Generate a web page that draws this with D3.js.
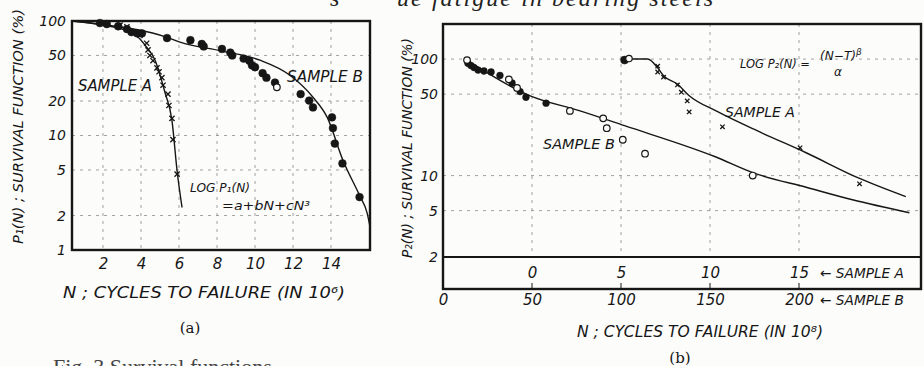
<!DOCTYPE html>
<html>
<head>
<meta charset="utf-8">
<script src="https://cdn.jsdelivr.net/npm/d3@7"></script>
<style>
  body { margin: 0; background: #fcfcfb; }
  svg { display: block; }
  .lab { font-family: "DejaVu Sans", sans-serif; font-style: italic; fill: #161616; }
  .tick text { font-family: "DejaVu Sans", sans-serif; font-style: italic; fill: #161616; }
</style>
</head>
<body>
<svg id="chart" width="924" height="366"></svg>
<script>
// ---------- panel (a): N in 10^6 cycles, P1(N) in %
var aTicksX = [2, 4, 6, 8, 10, 12, 14];
var aTicksY = [1, 2, 5, 10, 20, 50, 100];
var aCrossA = [[2.9, 92], [3.26, 89], [3.58, 80], [3.95, 75], [4.3, 64], [4.37, 56], [4.47, 50],
  [4.63, 45], [4.84, 39], [4.95, 36], [5.1, 32], [5.16, 27.5], [5.42, 23], [5.47, 18.3],
  [5.63, 14.1], [5.68, 9.2], [5.9, 4.6]];
var aDotB = [[1.84, 96], [2.2, 94], [2.8, 90], [3.26, 85], [3.5, 80], [3.8, 78], [4.05, 78],
  [5.37, 71], [6.6, 68], [7.2, 63], [7.3, 60], [8.26, 57], [8.7, 53], [8.8, 50], [9.4, 47],
  [9.7, 45], [9.84, 41], [10, 39.5], [10.4, 35], [10.6, 32], [11.05, 29], [12.4, 23],
  [12.85, 20.2], [13.05, 17.6], [14.05, 14.4], [14.1, 11.6], [14.2, 8.5], [14.6, 5.7], [15.5, 2.9]];
var aOpenB = [[11.15, 26.4]];
var aCurveA = [[0.37, 100], [1.84, 93], [3.58, 78.5], [4.3, 59], [4.74, 45.5], [5.26, 23.8],
  [5.63, 13.5], [5.9, 4.9], [6.16, 2.35]];
var aCurveB = [[0.37, 100], [1.84, 94], [5.37, 72], [6.05, 65.4], [8.26, 54.6], [10.26, 45.5],
  [11.84, 33.6], [13.05, 21.6], [13.8, 14.4], [14.63, 6.05], [15.5, 3], [15.9, 2.1], [16.05, 1.6]];

// ---------- panel (b): N in 10^8 cycles (two scales), P2(N) in %
var bTicksA = [0, 5, 10, 15];
var bTicksB = [0, 50, 100, 150, 200];
var bTicksY = [2, 5, 10, 50, 100];
var bCrossA = [[7.06, 87], [7.06, 77.4], [7.39, 70], [8.17, 60], [8.39, 52], [8.72, 43.7],
  [8.83, 35.2], [10.7, 26.2], [15.06, 17.3], [18.4, 8.5]];
var bBlobA = [[5.2, 98], [5.45, 101]];
var bDotB = [[14, 92], [15.7, 88], [17.4, 84.6], [19.7, 80.5], [23, 79], [27, 77.5], [32, 72.3],
  [38.8, 62.3], [43.3, 52.6], [46.6, 47], [57.9, 41.8]];
var bOpenB = [[13.5, 98], [37, 67], [41.6, 56.5], [71.3, 35.9], [90, 31], [92, 25.5],
  [101, 20.3], [113.5, 15.4], [174, 10]];
var bCurveA = [[5.28, 100], [6.5, 100], [7.06, 84], [7.39, 72], [8.17, 61], [8.8, 49],
  [10.4, 35.5], [12.9, 23.3], [15.4, 15.7], [18.3, 9.6], [21, 6.6]];
var bCurveB = [[13.5, 98], [49, 48.3], [77, 35.9], [102, 26.8], [153, 14.5], [174, 10.6],
  [204.5, 7.9], [230, 6.2], [262, 4.8]];

var ink = "#161616";
var svg = d3.select("#chart");

function label(x, y, txt, size, len) {
  var t = svg.append("text").attr("class", "lab").attr("x", x).attr("y", y)
    .style("font-size", size + "px").text(txt);
  if (len) t.attr("textLength", len).attr("lengthAdjust", "spacingAndGlyphs");
  return t;
}

function crosses(g, data, x, y, s) {
  g.selectAll(null).data(data).enter().append("path")
    .attr("d", "M" + -s + "," + -s + "L" + s + "," + s + "M" + -s + "," + s + "L" + s + "," + -s)
    .attr("transform", function(d) { return "translate(" + x(d[0]) + "," + y(d[1]) + ")"; })
    .attr("stroke", ink).attr("stroke-width", 1.3);
}

function dots(g, data, x, y, r, open) {
  g.selectAll(null).data(data).enter().append("circle")
    .attr("cx", function(d) { return x(d[0]); })
    .attr("cy", function(d) { return y(d[1]); })
    .attr("r", r)
    .attr("fill", open ? "#fcfcfb" : ink)
    .attr("stroke", ink).attr("stroke-width", open ? 1.2 : 0.5);
}

// ================= panel (a)
var xA = d3.scaleLinear().domain([0.37, 16.05]).range([72, 370]);
var yA = d3.scaleLog().domain([1, 100]).range([250, 21]);
var gA = svg.append("g");

// dashed grid
gA.selectAll(null).data(aTicksX).enter().append("line")
  .attr("x1", xA).attr("x2", xA).attr("y1", 21).attr("y2", 250)
  .attr("stroke", "#8a8a8a").attr("stroke-width", 0.8).attr("stroke-dasharray", "3,5");
gA.selectAll(null).data(aTicksY.slice(1, -1)).enter().append("line")
  .attr("y1", yA).attr("y2", yA).attr("x1", 72).attr("x2", 370)
  .attr("stroke", "#8a8a8a").attr("stroke-width", 0.8).attr("stroke-dasharray", "3,5");

var line = d3.line().curve(d3.curveMonotoneX);
gA.append("path").attr("d", line(aCurveA.map(function(d) { return [xA(d[0]), yA(d[1])]; })))
  .attr("fill", "none").attr("stroke", ink).attr("stroke-width", 1.4);
gA.append("path").attr("d", line(aCurveB.map(function(d) { return [xA(d[0]), yA(d[1])]; })))
  .attr("fill", "none").attr("stroke", ink).attr("stroke-width", 1.4);

crosses(gA, aCrossA, xA, yA, 2.6);
dots(gA, aDotB, xA, yA, 3.9, false);
dots(gA, aOpenB, xA, yA, 3.3, true);

gA.append("rect").attr("x", 72).attr("y", 21).attr("width", 298).attr("height", 229)
  .attr("fill", "none").attr("stroke", ink).attr("stroke-width", 2.4);

gA.append("g").attr("transform", "translate(72,0)")
  .call(d3.axisLeft(yA).tickValues(aTicksY).tickFormat(d3.format("d")).tickSize(0).tickPadding(6))
  .call(function(g) { g.select(".domain").remove(); })
  .selectAll("text").style("font-size", "14px");
gA.append("g").attr("transform", "translate(0,250)")
  .call(d3.axisBottom(xA).tickValues(aTicksX).tickSize(0).tickPadding(8))
  .call(function(g) { g.select(".domain").remove(); })
  .selectAll("text").style("font-size", "15px");

label(78, 91, "SAMPLE A", 15, 74);
label(287, 82, "SAMPLE B", 15, 76);
label(190, 192, "LOG P₁(N)", 12, 60);
label(222, 210, "=a+bN+cN³", 13, 88);
label(63, 298, "N ; CYCLES TO FAILURE (IN 10⁶)", 15, 282);
svg.append("text").attr("x", 190).attr("y", 333).attr("text-anchor", "middle")
  .style("font-family", "'DejaVu Serif', serif").style("font-size", "15px").attr("fill", ink).text("(a)");
label(0, 0, "P₁(N) ; SURVIVAL FUNCTION (%)", 14, 235)
  .attr("transform", "translate(23,244) rotate(-90)");

// ================= panel (b)
var xB = d3.scaleLinear().domain([0, 270]).range([443, 923.6]);
var xAb = d3.scaleLinear().domain([-5, 22]).range([443, 923.6]);
var yB = d3.scaleLog().domain([2, 200]).range([257, 24]);
var gB = svg.append("g");

gB.selectAll(null).data(bTicksB.slice(1)).enter().append("line")
  .attr("x1", xB).attr("x2", xB).attr("y1", 24).attr("y2", 257)
  .attr("stroke", "#8a8a8a").attr("stroke-width", 0.8).attr("stroke-dasharray", "3,5");
gB.selectAll(null).data(bTicksB.slice(1)).enter().append("line")
  .attr("x1", xB).attr("x2", xB).attr("y1", 283).attr("y2", 289)
  .attr("stroke", ink).attr("stroke-width", 1);
gB.selectAll(null).data(bTicksY.slice(1)).enter().append("line")
  .attr("y1", yB).attr("y2", yB).attr("x1", 443).attr("x2", 921)
  .attr("stroke", "#8a8a8a").attr("stroke-width", 0.8).attr("stroke-dasharray", "3,5");

gB.append("path").attr("d", line(bCurveA.map(function(d) { return [xAb(d[0]), yB(d[1])]; })))
  .attr("fill", "none").attr("stroke", ink).attr("stroke-width", 1.4);
gB.append("path").attr("d", line(bCurveB.map(function(d) { return [xB(d[0]), yB(d[1])]; })))
  .attr("fill", "none").attr("stroke", ink).attr("stroke-width", 1.4);

crosses(gB, bCrossA, xAb, yB, 2.2);
dots(gB, bBlobA.slice(0, 1), xAb, yB, 4, false);
dots(gB, bBlobA.slice(1), xAb, yB, 3.2, true);
dots(gB, bDotB, xB, yB, 3.4, false);
dots(gB, bOpenB, xB, yB, 3.3, true);

gB.append("rect").attr("x", 443).attr("y", 24).attr("width", 478).attr("height", 265)
  .attr("fill", "none").attr("stroke", ink).attr("stroke-width", 2.4);
gB.append("line").attr("x1", 443).attr("x2", 921).attr("y1", yB(2)).attr("y2", yB(2))
  .attr("stroke", ink).attr("stroke-width", 1.8);

gB.append("g").attr("transform", "translate(443,0)")
  .call(d3.axisLeft(yB).tickValues(bTicksY).tickFormat(d3.format("d")).tickSize(0).tickPadding(5))
  .call(function(g) { g.select(".domain").remove(); })
  .selectAll("text").style("font-size", "14px");
gB.append("g").attr("transform", "translate(0,262)")
  .call(d3.axisBottom(xAb).tickValues(bTicksA).tickSize(0).tickPadding(5))
  .call(function(g) { g.select(".domain").remove(); })
  .selectAll("text").style("font-size", "15px");
gB.append("g").attr("transform", "translate(0,289)")
  .call(d3.axisBottom(xB).tickValues(bTicksB).tickSize(0).tickPadding(5))
  .call(function(g) { g.select(".domain").remove(); })
  .selectAll("text").style("font-size", "15px");

label(820, 278, "← SAMPLE A", 14, 84);
label(820, 305, "← SAMPLE B", 14, 84);
label(725, 117, "SAMPLE A", 14, 70);
label(543, 149, "SAMPLE B", 14, 72);
label(740, 68, "LOG P₂(N) =", 12, 70);
label(820, 60, "(N−T)", 12, 36);
label(856, 55, "β", 9);
label(834, 76, "α", 12);
label(577, 337, "N ; CYCLES TO FAILURE (IN 10⁸)", 15, 246);
svg.append("text").attr("x", 680).attr("y", 363).attr("text-anchor", "middle")
  .style("font-family", "'DejaVu Serif', serif").style("font-size", "15px").attr("fill", ink).text("(b)");
label(0, 0, "P₂(N) ; SURVIVAL FUNCTION (%)", 14, 220)
  .attr("transform", "translate(412,258) rotate(-90)");

// clipped title and caption from the printed page
svg.append("text").attr("x", 330).attr("y", 6)
  .style("font-family", "'Liberation Serif', serif").style("font-style", "italic")
  .style("font-size", "24px").attr("fill", "#222").text("s");
svg.append("text").attr("x", 397).attr("y", 6)
  .style("font-family", "'Liberation Serif', serif").style("font-style", "italic")
  .style("font-size", "24px").attr("fill", "#222").attr("textLength", 316)
  .text("ue fatigue in bearing steels");
svg.append("text").attr("x", 53).attr("y", 374)
  .style("font-family", "'Liberation Serif', serif").style("font-size", "22px")
  .attr("fill", "#444").text("Fig. 3  Survival functions");
</script>
</body>
</html>
